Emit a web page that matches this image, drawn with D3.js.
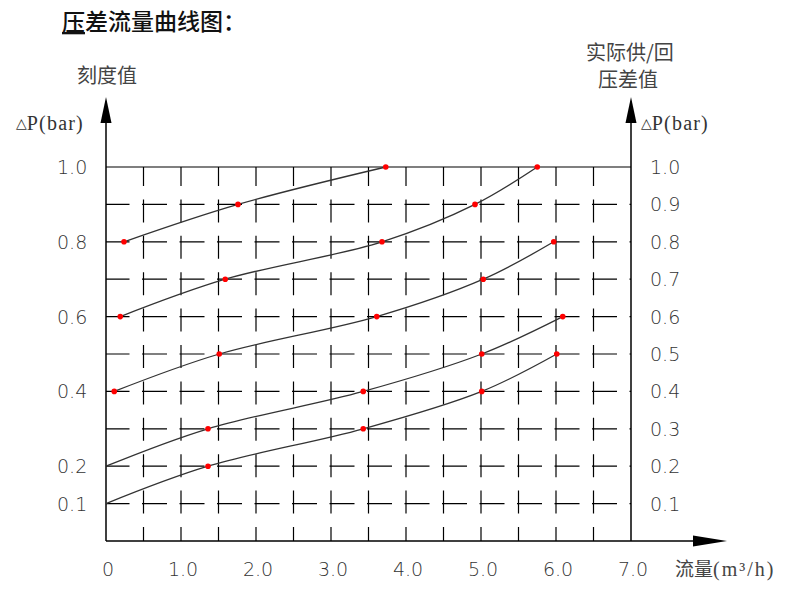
<!DOCTYPE html>
<html><head><meta charset="utf-8">
<script src="https://cdn.jsdelivr.net/npm/d3@7"></script>
<style>
html,body{margin:0;padding:0;background:#fff;}
svg{display:block;}
.cjk{font-family:"Noto Sans CJK SC","Noto Sans",sans-serif;}
.num{font-family:"DejaVu Sans",sans-serif;font-weight:200;}
.ser{font-family:"Liberation Serif","DejaVu Serif",serif;}
</style>
</head><body>
<svg id="c" width="795" height="596"></svg>
<script>
// ---- data ----
const xTicks = [0, 1, 2, 3, 4, 5, 6, 7];
const xTickLabels = ["0", "1.0", "2.0", "3.0", "4.0", "5.0", "6.0", "7.0"];
const leftTicks = [1.0, 0.8, 0.6, 0.4, 0.2, 0.1];
const leftTickLabels = ["1.0", "0.8", "0.6", "0.4", "0.2", "0.1"];
const rightTicks = [1.0, 0.9, 0.8, 0.7, 0.6, 0.5, 0.4, 0.3, 0.2, 0.1];
const rightTickLabels = ["1.0", "0.9", "0.8", "0.7", "0.6", "0.5", "0.4", "0.3", "0.2", "0.1"];
const gridX = [0.5, 1, 1.5, 2, 2.5, 3, 3.5, 4, 4.5, 5, 5.5, 6, 6.5];
const gridY = [0.1, 0.2, 0.3, 0.4, 0.5, 0.6, 0.7, 0.8, 0.9];

// curves: flow (m3/h) and pressure (bar); dot flags mark red points
const curve1Flow = [0.24, 1.76, 3.73];
const curve1DP   = [0.8, 0.9, 1.0];
const curve1Dot  = [1, 1, 1];
const curve2Flow = [0.19, 1.59, 3.68, 4.92, 5.75];
const curve2DP   = [0.6, 0.7, 0.8, 0.9, 1.0];
const curve2Dot  = [1, 1, 1, 1, 1];
const curve3Flow = [0.11, 1.51, 3.61, 5.03, 5.97];
const curve3DP   = [0.4, 0.5, 0.6, 0.7, 0.8];
const curve3Dot  = [1, 1, 1, 1, 1];
const curve4Flow = [0, 1.36, 3.43, 5.01, 6.09];
const curve4DP   = [0.2, 0.3, 0.4, 0.5, 0.6];
const curve4Dot  = [0, 1, 1, 1, 1];
const curve5Flow = [0, 1.36, 3.43, 5.01, 6.01];
const curve5DP   = [0.1, 0.2, 0.3, 0.4, 0.5];
const curve5Dot  = [0, 1, 1, 1, 1];

const curves = [
  [curve1Flow, curve1DP, curve1Dot],
  [curve2Flow, curve2DP, curve2Dot],
  [curve3Flow, curve3DP, curve3Dot],
  [curve4Flow, curve4DP, curve4Dot],
  [curve5Flow, curve5DP, curve5Dot]
].map(([f, p, d]) => f.map((v, i) => ({x: v, y: p[i], dot: d[i]})));

// ---- drawing ----
const svg = d3.select("#c");
const x = d3.scaleLinear().domain([0, 7]).range([106, 631]);
const y = d3.scaleLinear().domain([0, 1]).range([541, 167]);

// Title
const title = svg.append("text").attr("class", "cjk")
  .attr("x", 62).attr("y", 30).attr("font-size", 23).attr("font-weight", 500).attr("fill", "#111");
title.append("tspan").attr("text-decoration", "underline").text("压");
title.append("tspan").text("差流量曲线图：");

// grid
const g = svg.append("g");
g.selectAll("line.gh").data(gridY).enter().append("line")
  .attr("x1", x(0)).attr("x2", x(7))
  .attr("y1", d => y(d)).attr("y2", d => y(d))
  .attr("stroke", "#000").attr("stroke-width", 1.2)
  .attr("stroke-dasharray", "25,12.5").attr("stroke-dashoffset", 1.5);
g.selectAll("line.gv").data(gridX).enter().append("line")
  .attr("x1", d => x(d)).attr("x2", d => x(d))
  .attr("y1", y(1)).attr("y2", y(0))
  .attr("stroke", "#000").attr("stroke-width", 1.2)
  .attr("stroke-dasharray", "23,13.4").attr("stroke-dashoffset", 4);
// top solid line
g.append("line").attr("x1", x(0)).attr("x2", x(7)).attr("y1", y(1)).attr("y2", y(1))
  .attr("stroke", "#000").attr("stroke-width", 1.2);

// axes
const axisW = 1.5;
svg.append("line").attr("x1", x(0)).attr("x2", x(0)).attr("y1", y(0)).attr("y2", 120)
  .attr("stroke", "#000").attr("stroke-width", axisW);
svg.append("line").attr("x1", x(7)).attr("x2", x(7)).attr("y1", y(0)).attr("y2", 120)
  .attr("stroke", "#000").attr("stroke-width", axisW);
svg.append("line").attr("x1", x(0)).attr("x2", 700).attr("y1", y(0)).attr("y2", y(0))
  .attr("stroke", "#000").attr("stroke-width", axisW);
// arrows
function upArrow(cx) {
  svg.append("path").attr("d", `M${cx},97 L${cx - 5.5},123 L${cx + 5.5},123 Z`).attr("fill", "#000");
}
upArrow(x(0)); upArrow(x(7));
svg.append("path").attr("d", `M727,${y(0)} L693,${y(0) - 5.5} L693,${y(0) + 5.5} Z`).attr("fill", "#000");

// curves
const line = d3.line().x(d => x(d.x)).y(d => y(d.y)).curve(d3.curveCatmullRom.alpha(0.5));
svg.selectAll("path.curve").data(curves).enter().append("path")
  .attr("d", line).attr("fill", "none").attr("stroke", "#333").attr("stroke-width", 1.3);
svg.selectAll("g.dots").data(curves).enter().append("g")
  .selectAll("circle").data(d => d.filter(p => p.dot)).enter().append("circle")
  .attr("cx", d => x(d.x)).attr("cy", d => y(d.y)).attr("r", 2.8).attr("fill", "#f00");

// tick labels
svg.selectAll("text.xl").data(xTicks).enter().append("text").attr("class", "num")
  .attr("x", d => x(d) + 2).attr("y", 576).attr("text-anchor", "middle")
  .attr("font-size", 19).attr("fill", "#333").text((d, i) => xTickLabels[i]);
svg.selectAll("text.yl").data(leftTicks).enter().append("text").attr("class", "num")
  .attr("x", 57).attr("y", d => y(d) + 7).attr("font-size", 19).attr("fill", "#333")
  .text((d, i) => leftTickLabels[i]);
svg.selectAll("text.yr").data(rightTicks).enter().append("text").attr("class", "num")
  .attr("x", 650).attr("y", d => y(d) + 7).attr("font-size", 19).attr("fill", "#333")
  .text((d, i) => rightTickLabels[i]);

// axis titles
svg.append("text").attr("class", "cjk").attr("x", 77).attr("y", 83).attr("font-size", 20).attr("fill", "#444").text("刻度值");
svg.append("text").attr("class", "cjk").attr("x", 586).attr("y", 60).attr("font-size", 20).attr("fill", "#444").text("实际供/回");
svg.append("text").attr("class", "cjk").attr("x", 598).attr("y", 87).attr("font-size", 20).attr("fill", "#444").text("压差值");

function dpLabel(x0) {
  const t = svg.append("text").attr("x", x0).attr("y", 130).attr("fill", "#333");
  t.append("tspan").attr("class", "ser").attr("font-size", 14).attr("dy", -2).text("△");
  t.append("tspan").attr("class", "ser").attr("font-size", 20).attr("dy", 2).attr("letter-spacing", 1.2).text("P(bar)");
}
dpLabel(16); dpLabel(641);

const xt = svg.append("text").attr("x", 675).attr("y", 576).attr("fill", "#444");
xt.append("tspan").attr("class", "cjk").attr("font-size", 19).text("流量");
xt.append("tspan").attr("class", "ser").attr("font-size", 20).attr("letter-spacing", 2).text("(m³/h)");
</script>
</body></html>
